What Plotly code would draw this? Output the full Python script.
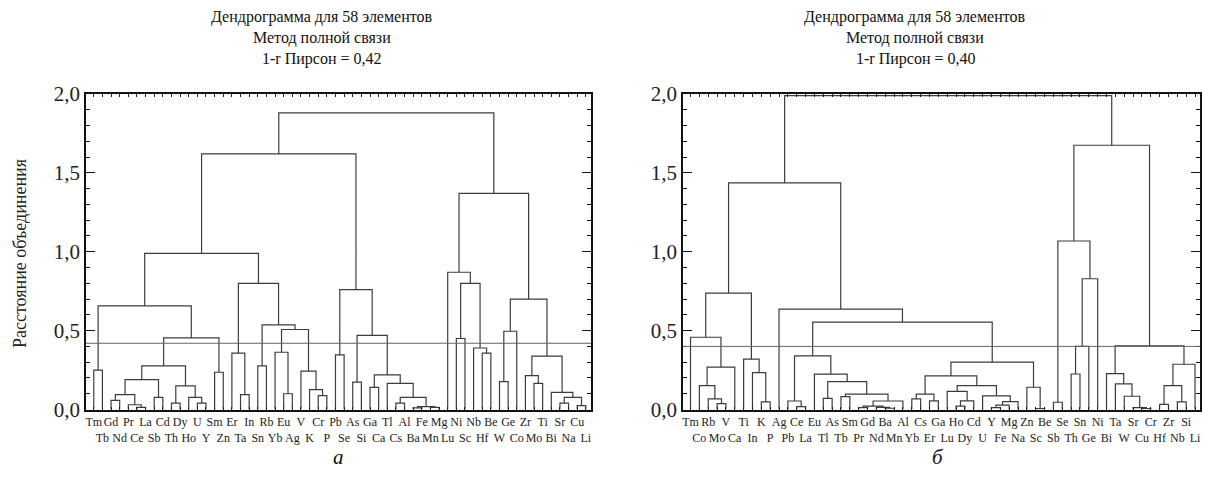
import plotly.graph_objects as go

# ---------------- data ----------------
leaves_a = ["Tm","Tb","Gd","Nd","Pr","Ce","La","Sb","Cd","Th","Dy","Ho","U","Y","Sm","Zn",
            "Er","Ta","In","Sn","Rb","Yb","Eu","Ag","V","K","Cr","P","Pb","Se","As","Si",
            "Ga","Ca","Tl","Cs","Al","Ba","Fe","Mn","Mg","Lu","Ni","Sc","Nb","Hf","Be","W",
            "Ge","Co","Zr","Mo","Ti","Bi","Sr","Na","Cu","Li"]

leaves_b = ["Tm","Co","Rb","Mo","V","Ca","Ti","In","K","P","Ag","Pb","Ce","La","Eu","Tl",
            "As","Tb","Sm","Pr","Gd","Nd","Ba","Mn","Al","Yb","Cs","Er","Ga","Lu","Ho","Dy",
            "Cd","U","Y","Fe","Mg","Na","Zn","Sc","Be","Sb","Se","Th","Sn","Ge","Ni","Bi",
            "Ta","W","Sr","Cu","Cr","Hf","Zr","Nb","Si","Li"]

# merges: (node, left child, right child, height)
merges_a = [
    ("a1","Tm","Tb",0.25), ("a2","Gd","Nd",0.058), ("a3","Ce","La",0.014),
    ("a4","Pr","a3",0.03), ("a5","a2","a4",0.094), ("a6","Sb","Cd",0.077),
    ("a7","a5","a6",0.19), ("a8","Th","Dy",0.04), ("a9","U","Y",0.04),
    ("a10","Ho","a9",0.077), ("a11","a8","a10",0.15), ("a12","a7","a11",0.276),
    ("a13","Sm","Zn",0.236), ("a14","a12","a13",0.454), ("a15","a1","a14",0.657),
    ("a16","Ta","In",0.094), ("a17","Er","a16",0.357), ("a18","Sn","Rb",0.276),
    ("a19","Eu","Ag",0.10), ("a20","Yb","a19",0.363), ("a21","Cr","P",0.088),
    ("a22","K","a21",0.126), ("a23","V","a22",0.243), ("a24","a20","a23",0.507),
    ("a25","a18","a24",0.536), ("a26","a17","a25",0.80), ("a27","a15","a26",0.99),
    ("a28","Pb","Se",0.346), ("a29","As","Si",0.173), ("a30","Ga","Ca",0.14),
    ("a31","Cs","Al",0.041), ("a32","Ba","Fe",0.01), ("a33","Mn","Mg",0.013),
    ("a34","a32","a33",0.018), ("a35","a31","a34",0.077), ("a36","Tl","a35",0.166),
    ("a37","a30","a36",0.22), ("a38","a29","a37",0.47), ("a39","a28","a38",0.76),
    ("a40","a27","a39",1.62), ("a41","Ni","Sc",0.45), ("a42","Hf","Be",0.357),
    ("a43","Nb","a42",0.39), ("a44","a41","a43",0.80), ("a45","Lu","a44",0.87),
    ("a46","W","Ge",0.177), ("a47","a46","Co",0.496), ("a48","Mo","Ti",0.166),
    ("a49","Zr","a48",0.215), ("a50","Sr","Na",0.04), ("a51","Cu","Li",0.025),
    ("a52","a50","a51",0.077), ("a53","Bi","a52",0.109), ("a54","a49","a53",0.338),
    ("a55","a47","a54",0.70), ("a56","a45","a55",1.37), ("a57","a40","a56",1.88),
]

merges_b = [
    ("b1","Mo","V",0.037), ("b2","Rb","b1",0.067), ("b3","Co","b2",0.151),
    ("b4","b3","Ca",0.268), ("b5","Tm","b4",0.458), ("b6","K","P",0.048),
    ("b7","In","b6",0.234), ("b8","Ti","b7",0.319), ("b9","b5","b8",0.738),
    ("b10","Ce","La",0.018), ("b11","Pb","b10",0.054), ("b12","Tl","As",0.071),
    ("b13","Tb","Sm",0.081), ("b14","Pr","Gd",0.012), ("b15","Ba","Mn",0.008),
    ("b16","Nd","b15",0.014), ("b17","b14","b16",0.022), ("b18","b17","Al",0.054),
    ("b19","b13","b18",0.097), ("b20","b12","b19",0.177), ("b21","Eu","b20",0.224),
    ("b22","b11","b21",0.34), ("b23","Yb","Cs",0.067), ("b24","Er","Ga",0.055),
    ("b25","b23","b24",0.097), ("b26","Ho","Dy",0.022), ("b27","b26","Cd",0.055),
    ("b28","Lu","b27",0.115), ("b29","Y","Fe",0.012), ("b30","b29","Mg",0.028),
    ("b31","b30","Na",0.05), ("b32","U","b31",0.086), ("b33","b28","b32",0.151),
    ("b34","b25","b33",0.213), ("b35","Sc","Be",0.005), ("b36","Zn","b35",0.141),
    ("b37","b34","b36",0.30), ("b38","b22","b37",0.554), ("b39","Ag","b38",0.636),
    ("b40","b9","b39",1.436), ("b41","Sb","Se",0.046), ("b42","Th","Sn",0.225),
    ("b43","b42","Ge",0.40), ("b44","b43","Ni",0.829), ("b45","b41","b44",1.068),
    ("b46","Cu","Cr",0.006), ("b47","Sr","b46",0.012), ("b48","W","b47",0.084),
    ("b49","Ta","b48",0.162), ("b50","Bi","b49",0.227), ("b51","Hf","Zr",0.033),
    ("b52","Nb","Si",0.048), ("b53","b51","b52",0.151), ("b54","b53","Li",0.287),
    ("b55","b50","b54",0.403), ("b56","b45","b55",1.675), ("b57","b40","b56",1.99),
]

cut_a = 0.42
cut_b = 0.40
title_a = ["Дендрограмма для 58 элементов", "Метод полной связи", "1-r Пирсон = 0,42"]
title_b = ["Дендрограмма для 58 элементов", "Метод полной связи", "1-r Пирсон = 0,40"]
ytick_vals = [0.0, 0.5, 1.0, 1.5, 2.0]
ytick_text = ["0,0", "0,5", "1,0", "1,5", "2,0"]
y_title = "Расстояние объединения"
panel_labels = ["а", "б"]

# ---------------- helpers ----------------
def dendro_paths(leaves, merges):
    pos = {name: float(i) for i, name in enumerate(leaves)}
    hgt = {name: 0.0 for name in leaves}
    xs, ys = [], []
    for node, l, r, h in merges:
        xl, xr = pos[l], pos[r]
        xs += [xl, xl, xr, xr, None]
        ys += [hgt[l], h, h, hgt[r], None]
        pos[node] = (xl + xr) / 2.0
        hgt[node] = h
    return xs, ys

def two_row(leaves):
    return [n if i % 2 == 0 else "<br>" + n for i, n in enumerate(leaves)]

# the page body has an 8px margin, so the figure is drawn 8px in from the window edge
OFF = 8
W, H = 1215 - 2 * OFF, 477 - 2 * OFF
def px(x):
    return (x - OFF) / W
def py(y):
    return 1 - (y - OFF) / H

serif = "Liberation Serif, Times New Roman, serif"
line_col = "#3c3c3c"

fig = go.Figure()
xa, ya = dendro_paths(leaves_a, merges_a)
xb, yb = dendro_paths(leaves_b, merges_b)
fig.add_trace(go.Scatter(x=xa, y=ya, mode="lines", line=dict(color=line_col, width=1.2),
                         xaxis="x", yaxis="y", showlegend=False, hoverinfo="skip"))
fig.add_trace(go.Scatter(x=xb, y=yb, mode="lines", line=dict(color=line_col, width=1.2),
                         xaxis="x2", yaxis="y2", showlegend=False, hoverinfo="skip"))

# pixel layout (window coordinates)
ax_a = (86, 591)
ax_b = (683, 1200)
y_top, y_bot = 94, 409.5
ydom = [py(y_bot), py(y_top)]

def xaxis_cfg(leaves, dom, rng):
    return dict(domain=[px(dom[0]), px(dom[1])], range=rng,
                tickmode="array", tickvals=list(range(len(leaves))), ticktext=two_row(leaves),
                ticks="inside", ticklen=3, tickwidth=1, tickcolor="#222",
                showline=True, linecolor="#111", linewidth=2, mirror="allticks",
                showgrid=False, zeroline=False, tickangle=0,
                tickfont=dict(family=serif, size=12, color="#222"))

def yaxis_cfg(anchor):
    return dict(domain=ydom, range=[0, 2.0], anchor=anchor,
                tickmode="array", tickvals=ytick_vals, ticktext=ytick_text,
                ticks="inside", ticklen=9, tickwidth=1.3, tickcolor="#111",
                minor=dict(dtick=0.1, ticks="inside", ticklen=4, tickwidth=1, tickcolor="#111"),
                showline=True, linecolor="#111", linewidth=1.5, mirror="allticks",
                showgrid=False, zeroline=False,
                tickfont=dict(family=serif, size=21, color="#222"))

fig.update_layout(
    width=W, height=H, margin=dict(l=0, r=0, t=0, b=0, autoexpand=False),
    paper_bgcolor="white", plot_bgcolor="white",
    font=dict(family=serif),
    xaxis=dict(**xaxis_cfg(leaves_a, ax_a, [-0.9, 57.6]), anchor="y"),
    yaxis=yaxis_cfg("x"),
    xaxis2=dict(**xaxis_cfg(leaves_b, ax_b, [-0.85, 57.56]), anchor="y2"),
    yaxis2=yaxis_cfg("x2"),
    showlegend=False,
)

# threshold lines
fig.add_shape(type="line", xref="x domain", yref="y", x0=0, x1=1, y0=cut_a, y1=cut_a,
              line=dict(color="#666", width=1))
fig.add_shape(type="line", xref="x2 domain", yref="y2", x0=0, x1=1, y0=cut_b, y1=cut_b,
              line=dict(color="#666", width=1))

# titles
for cx, lines in ((322, title_a), (915, title_b)):
    for txt, cy in zip(lines, (17, 38, 59)):
        fig.add_annotation(text=txt, x=px(cx), y=py(cy), xref="paper", yref="paper",
                           xanchor="center", yanchor="middle", showarrow=False,
                           font=dict(family=serif, size=16, color="#111"))

fig.add_annotation(text=y_title, x=px(20), y=py(254), xref="paper", yref="paper",
                   textangle=-90, xanchor="center", yanchor="middle", showarrow=False,
                   font=dict(family=serif, size=18, color="#222"))

for cx, lab in zip((338, 938), panel_labels):
    fig.add_annotation(text="<i>" + lab + "</i>", x=px(cx), y=py(457), xref="paper",
                       yref="paper", xanchor="center", yanchor="middle", showarrow=False,
                       font=dict(family=serif, size=21, color="#111"))

fig.write_html("out.html")
